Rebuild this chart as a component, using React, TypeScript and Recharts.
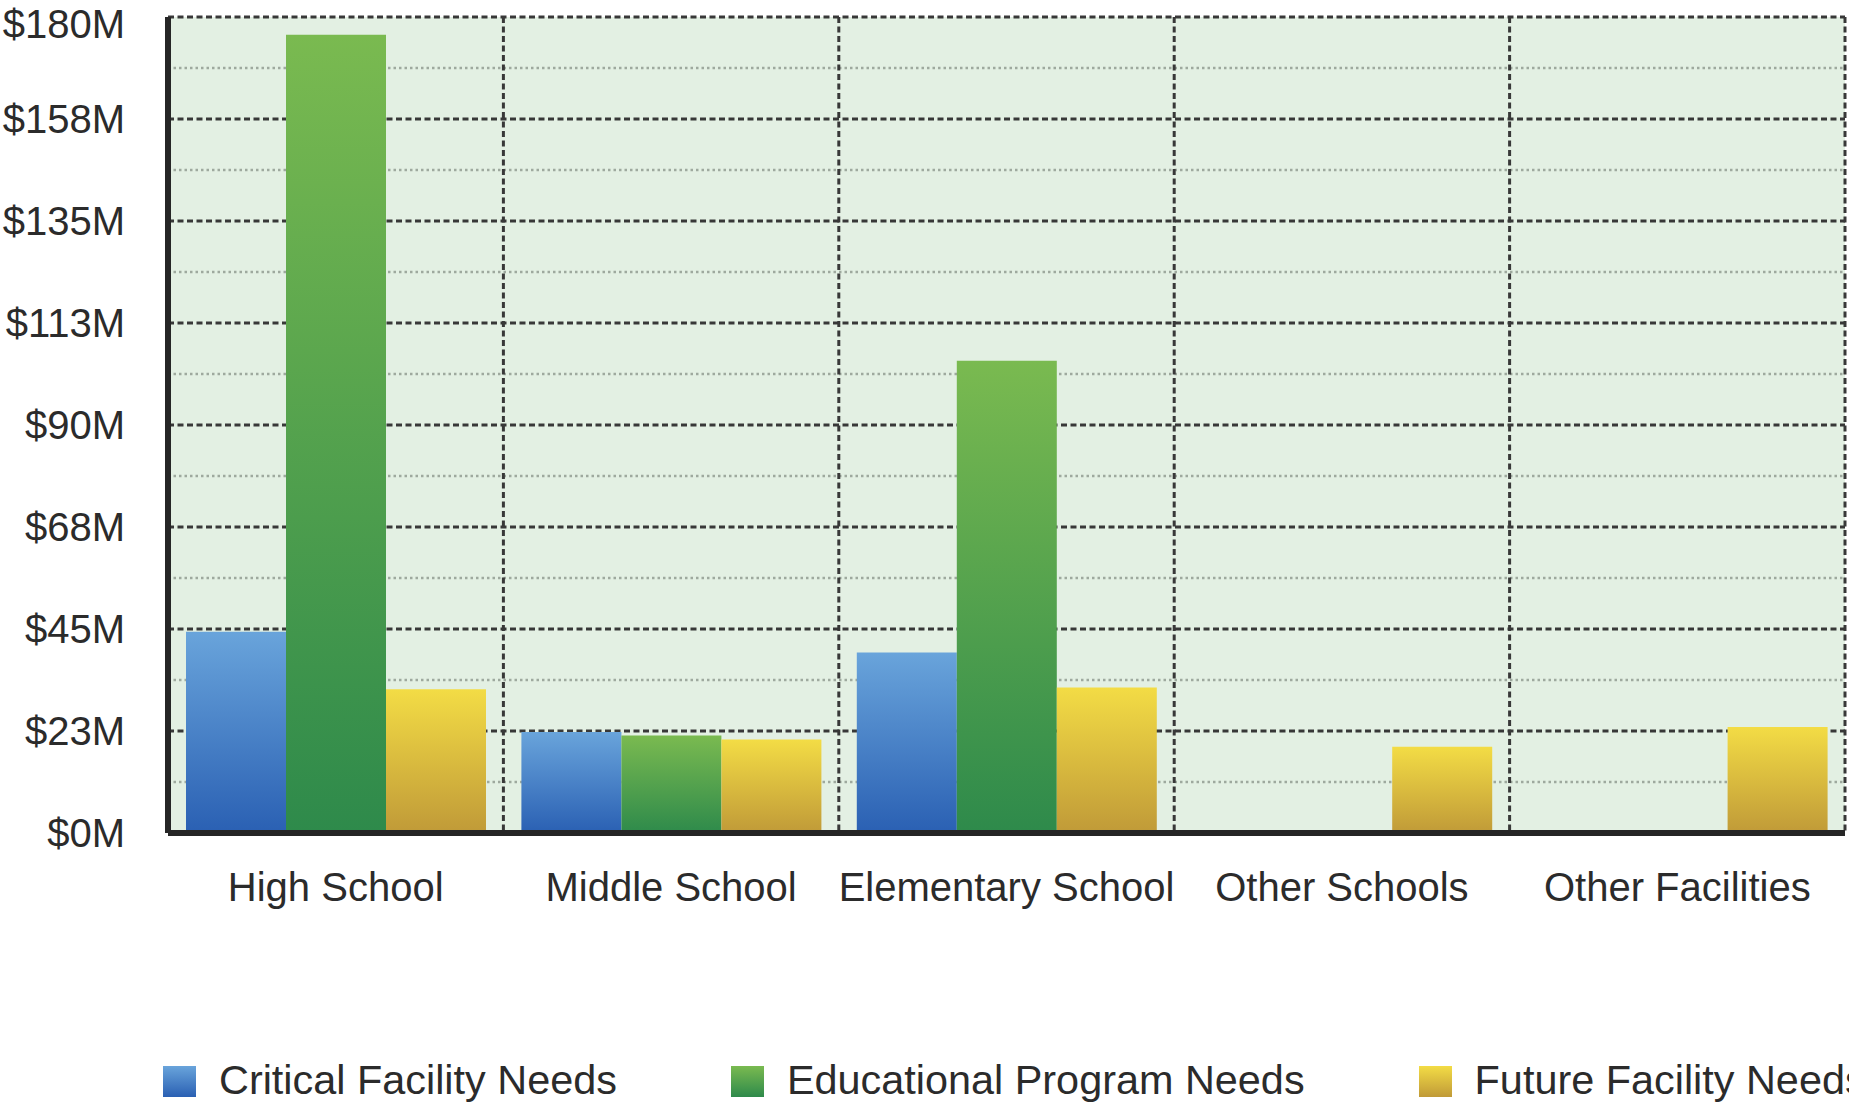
import { BarChart, Bar, XAxis, YAxis, CartesianGrid, Legend } from 'recharts';

const categories = ['High School', 'Middle School', 'Elementary School', 'Other Schools', 'Other Facilities'];
const criticalFacility = [44.4, 22.3, 39.8, 0, 0];
const educationalProgram = [176.1, 21.5, 104.2, 0, 0];
const futureFacility = [31.7, 20.6, 32.1, 19.0, 23.4];

const yTicks = [0, 22.5, 45, 67.5, 90, 112.5, 135, 157.5, 180];
const yMinorTicks = [11.25, 33.75, 56.25, 78.75, 101.25, 123.75, 146.25, 168.75];
const boundaryTicks = [0, 1, 2, 3, 4, 5];

const series = [
  { key: 'critical', name: 'Critical Facility Needs', top: '#69a4db', bottom: '#2a60b3' },
  { key: 'educational', name: 'Educational Program Needs', top: '#7aba50', bottom: '#2e8a4b' },
  { key: 'future', name: 'Future Facility Needs', top: '#f3dc45', bottom: '#c09a38' },
];

const data = categories.map((name, i) => ({
  name,
  critical: criticalFacility[i],
  educational: educationalProgram[i],
  future: futureFacility[i],
}));

const font = '"Liberation Sans", Arial, Helvetica, sans-serif';
const ink = '#262626';

// vertical grid lines sit on the category boundaries
const boundaryLines = ({ offset }: any) =>
  boundaryTicks.map((k) => offset.left + (offset.width * k) / categories.length);

const renderLegend = () => (
  <div
    style={{
      display: 'flex',
      alignItems: 'center',
      height: 44,
      paddingLeft: 163,
      whiteSpace: 'nowrap',
      fontFamily: font,
      fontSize: 41.4,
      color: '#2b2b2b',
    }}
  >
    {series.map((s) => (
      <div key={s.key} style={{ display: 'flex', alignItems: 'center', marginRight: 114 }}>
        <div
          style={{
            width: 33,
            height: 31,
            marginRight: 23,
            background: `linear-gradient(${s.top}, ${s.bottom})`,
          }}
        />
        <span style={{ lineHeight: 1 }}>{s.name}</span>
      </div>
    ))}
  </div>
);

export default function App() {
  return (
    <div style={{ position: 'absolute', left: 0, top: 0, width: 1849, height: 1106, overflow: 'hidden', background: '#fff' }}>
      <BarChart
        width={1849}
        height={1106}
        data={data}
        margin={{ top: 17, right: 4, left: 0, bottom: 173 }}
        barGap={0}
        barSize={100}
      >
        <defs>
          {series.map((s) => (
            <linearGradient key={s.key} id={`grad-${s.key}`} x1="0" y1="0" x2="0" y2="1">
              <stop offset="0%" stopColor={s.top} />
              <stop offset="100%" stopColor={s.bottom} />
            </linearGradient>
          ))}
        </defs>
        <CartesianGrid
          xAxisId="b"
          vertical={false}
          horizontalValues={yMinorTicks}
          fill="#e3f0e3"
          stroke="#9ea99e"
          strokeWidth={2.5}
          strokeDasharray="2.5 3"
        />
        <CartesianGrid
          xAxisId="b"
          horizontalValues={yTicks}
          verticalCoordinatesGenerator={boundaryLines}
          stroke="#383838"
          strokeWidth={3}
          strokeDasharray="6 3.5"
        />
        <XAxis
          xAxisId="b"
          dataKey="name"
          interval={0}
          height={99}
          axisLine={false}
          tickLine={false}
          tickSize={0}
          tickMargin={39}
          tick={{ fontSize: 40, fill: '#2b2b2b', fontFamily: font }}
        />
        <XAxis
          xAxisId="a"
          type="number"
          domain={[0, 5]}
          ticks={boundaryTicks}
          tick={false}
          tickSize={13}
          height={1}
          axisLine={{ stroke: ink, strokeWidth: 6 }}
          tickLine={{ stroke: ink, strokeWidth: 5 }}
        />
        <YAxis
          domain={[0, 180]}
          ticks={yTicks}
          width={168}
          tickSize={0}
          tickMargin={43}
          tickLine={false}
          axisLine={{ stroke: ink, strokeWidth: 6 }}
          tickFormatter={(v: number) => `$${Math.round(v)}M`}
          tick={{ fontSize: 40, fill: '#2b2b2b', fontFamily: font }}
        />
        {series.map((s) => (
          <Bar
            key={s.key}
            xAxisId="b"
            dataKey={s.key}
            name={s.name}
            fill={`url(#grad-${s.key})`}
            isAnimationActive={false}
          />
        ))}
        <Legend
          layout="horizontal"
          verticalAlign="middle"
          align="center"
          content={renderLegend}
          wrapperStyle={{ top: 1059, left: 0, width: 1849 }}
        />
      </BarChart>
    </div>
  );
}
